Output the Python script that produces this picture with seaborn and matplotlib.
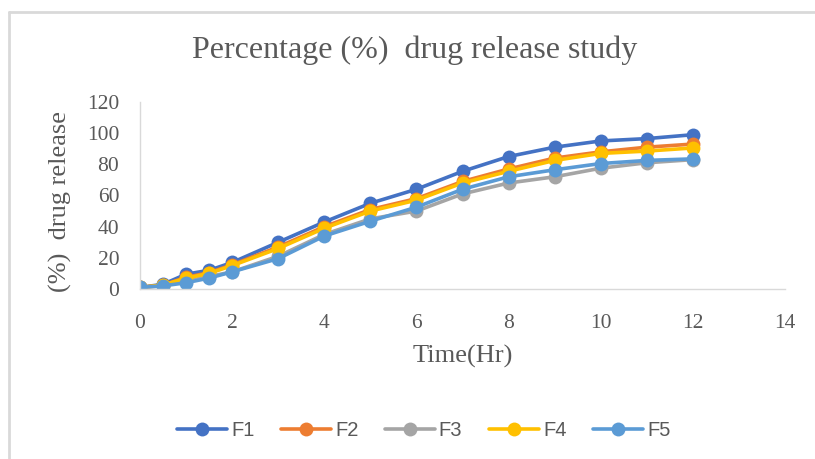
import numpy as np
import pandas as pd
import matplotlib
matplotlib.use("Agg")
import matplotlib.pyplot as plt
import seaborn as sns
from matplotlib.lines import Line2D

time_hr = [0, 0.5, 1, 1.5, 2, 3, 4, 5, 6, 7, 8, 9, 10, 11, 12]
f1 = [1, 3, 9.5, 12, 17, 30, 43, 55, 64, 75.5, 85, 91, 95, 96.5, 99]
f2 = [1, 2.5, 7.5, 10.5, 15.5, 27, 40, 51, 58, 69, 77, 84, 88, 91, 93]
f3 = [1, 2, 5, 8, 11, 21, 35, 45, 50, 61, 68, 72, 77.5, 81, 83]
f4 = [1, 2.5, 7, 10, 15, 26, 39, 50, 57, 68, 75.5, 82.5, 87, 88.5, 90.5]
f5 = [1, 2, 4, 7, 11, 19.5, 34, 43.5, 52.5, 64, 72, 76.5, 80.5, 82.5, 83.5]
names = ["F1", "F2", "F3", "F4", "F5"]
colors = ["#4472C4", "#ED7D31", "#A5A5A5", "#FFC000", "#5B9BD5"]

df = pd.DataFrame({"Time": time_hr * 5,
                   "Release": f1 + f2 + f3 + f4 + f5,
                   "Batch": [n for n in names for _ in time_hr]})

sns.set_style("white")
plt.rcParams["font.family"] = ["Liberation Serif", "DejaVu Serif"]
txt = "#595959"

fig = plt.figure(figsize=(8.15, 4.59), dpi=100)
ax = fig.add_axes([0.1718, 0.3704, 0.7914, 0.4074])

sns.lineplot(data=df, x="Time", y="Release", hue="Batch", palette=colors,
             marker="o", markersize=10, markeredgewidth=0, linewidth=2.6,
             legend=False, ax=ax)

ax.set_xlim(0, 14)
ax.set_ylim(0, 120)
ax.set_xticks(range(0, 15, 2))
ax.set_yticks(range(0, 121, 20))
for s in ["top", "right"]:
    ax.spines[s].set_visible(False)
for s in ["left", "bottom"]:
    ax.spines[s].set_color("#d9d9d9")
    ax.spines[s].set_linewidth(1.0)
ax.tick_params(axis="both", colors="#d9d9d9", labelcolor=txt, labelsize=15.5,
               length=5, width=1, direction="out")
ax.tick_params(axis="x", pad=13)
ax.tick_params(axis="y", pad=10)
for c in ax.collections:
    c.set_visible(False)

ax.set_xlabel("")
ax.set_ylabel("")
fig.text(463 / 815, 1 - 356 / 459, "Time(Hr)", ha="center", va="center",
         fontsize=19, color=txt)
fig.text(60 / 815, 1 - 202 / 459, "(%)  drug release", ha="center",
         va="center", rotation=90, fontsize=19, color=txt)
fig.text(415 / 815, 1 - 50 / 459, "Percentage (%)  drug release study",
         ha="center", va="center", fontsize=23, color=txt)

handles = [Line2D([0], [0], color=c, lw=2.6, marker="o", markersize=10,
                  markeredgewidth=0) for c in colors]
fig.legend(handles, names, loc="center", bbox_to_anchor=(423.5 / 815, 0.063),
           ncol=5, frameon=False, handlelength=2.5, columnspacing=1.3,
           handletextpad=0.2,
           prop={"family": ["Liberation Sans", "DejaVu Sans"], "size": 14.5},
           labelcolor=txt)

# outer chart frame
fig.add_artist(Line2D([0.0115, 0.0115], [0, 0.974], color="#d9d9d9", lw=2,
                      transform=fig.transFigure))
fig.add_artist(Line2D([0.0115, 1], [0.974, 0.974], color="#d9d9d9", lw=2,
                      transform=fig.transFigure))

fig.savefig("out.png", dpi=100)
